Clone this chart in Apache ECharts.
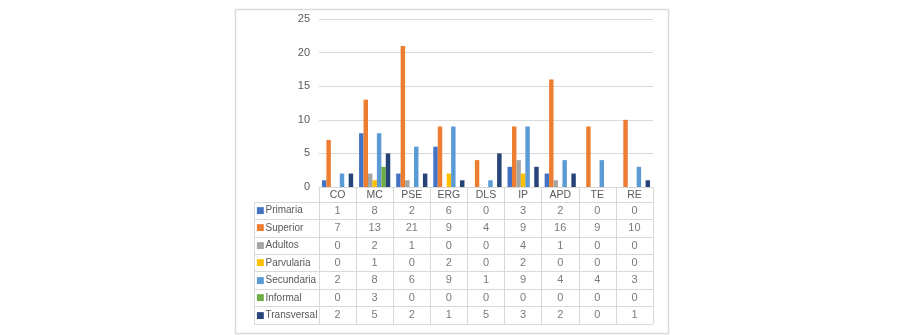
<!DOCTYPE html>
<html>
<head>
<meta charset="utf-8">
<script src="https://cdn.jsdelivr.net/npm/echarts@6/dist/echarts.min.js"></script>
<style>
html, body { margin: 0; padding: 0; background: #fff; }
#chart { width: 902px; height: 335px; }
</style>
</head>
<body>
<div id="chart"></div>
<script>
// data
const categories = ["CO", "MC", "PSE", "ERG", "DLS", "IP", "APD", "TE", "RE"]
const primaria = [1, 8, 2, 6, 0, 3, 2, 0, 0]
const superior = [7, 13, 21, 9, 4, 9, 16, 9, 10]
const adultos = [0, 2, 1, 0, 0, 4, 1, 0, 0]
const parvularia = [0, 1, 0, 2, 0, 2, 0, 0, 0]
const secundaria = [2, 8, 6, 9, 1, 9, 4, 4, 3]
const informal = [0, 3, 0, 0, 0, 0, 0, 0, 0]
const transversal = [2, 5, 2, 1, 5, 3, 2, 0, 1]
const seriesNames = ["Primaria", "Superior", "Adultos", "Parvularia", "Secundaria", "Informal", "Transversal"]
const seriesValues = [primaria, superior, adultos, parvularia, secundaria, informal, transversal]
const yMax = 25
const yStep = 5

const colors = ["#4472C4", "#ED7D31", "#A5A5A5", "#FFC000", "#5B9BD5", "#70AD47", "#264478"]
const lineColor = "#d9d9d9"
const textColor = "#595959"
const font = "Liberation Sans"

let myChart = echarts.init(document.getElementById("chart"))

// cells of the data table
let cells = []
seriesValues.forEach((vals, r) => {
    vals.forEach((v, c) => cells.push([c, r, v]))
})

let rich = {t: {color: textColor, fontSize: 10, fontFamily: font, padding: [0, 0, 0, 1]}}
colors.forEach((col, i) => {
    rich["m" + i] = {color: col, fontSize: 9, fontFamily: "DejaVu Sans"}
})

let barSeries = seriesNames.map((name, i) => {
    return {
        name: name,
        type: "bar",
        xAxisIndex: 0,
        yAxisIndex: 0,
        data: seriesValues[i],
        itemStyle: {color: colors[i]},
        barGap: "0%",
        barCategoryGap: "16%",
        silent: true
    }
})

let options = {
    animation: false,
    backgroundColor: "#fff",
    textStyle: {fontFamily: font},
    graphic: [{
        type: "rect",
        left: 233,
        top: 7,
        shape: {width: 433, height: 324},
        style: {fill: "none", stroke: lineColor, lineWidth: 1.5},
        z: -1
    }],
    grid: [
        {left: 319, top: 19, width: 334, height: 168},
        {left: 319, top: 202, width: 334, height: 122},
        {left: 254, top: 202, width: 65, height: 122}
    ],
    xAxis: [{
        gridIndex: 0,
        type: "category",
        data: categories,
        axisLine: {show: true, lineStyle: {color: lineColor}},
        axisTick: {show: true, length: 15, lineStyle: {color: lineColor}},
        axisLabel: {color: textColor, fontSize: 10.5, margin: 3, fontFamily: font}
    }, {
        gridIndex: 1,
        type: "category",
        data: categories,
        axisLine: {show: false},
        axisTick: {show: false},
        axisLabel: {show: false},
        splitLine: {show: true, lineStyle: {color: lineColor}}
    }, {
        gridIndex: 2,
        type: "category",
        data: [""],
        axisLine: {show: false},
        axisTick: {show: false},
        axisLabel: {show: false},
        splitLine: {show: true, lineStyle: {color: lineColor}}
    }],
    yAxis: [{
        gridIndex: 0,
        type: "value",
        min: 0,
        max: yMax,
        interval: yStep,
        axisLine: {show: false},
        axisTick: {show: false},
        axisLabel: {color: textColor, fontSize: 11, margin: 9, fontFamily: font},
        splitLine: {lineStyle: {color: lineColor}}
    }, {
        gridIndex: 1,
        type: "category",
        inverse: true,
        data: seriesNames,
        axisLine: {show: false},
        axisTick: {show: false},
        axisLabel: {show: false},
        splitLine: {show: true, lineStyle: {color: lineColor}}
    }, {
        gridIndex: 2,
        type: "category",
        inverse: true,
        data: seriesNames,
        axisLine: {show: false},
        axisTick: {show: false},
        axisLabel: {
            inside: true,
            margin: 2,
            align: "left",
            formatter: (v, i) => "{m" + i + "|■}{t|" + v + "}",
            rich: rich
        },
        splitLine: {show: true, lineStyle: {color: lineColor}}
    }],
    series: barSeries.concat([{
        type: "scatter",
        xAxisIndex: 1,
        yAxisIndex: 1,
        data: cells,
        symbolSize: 0,
        silent: true,
        label: {
            show: true,
            position: "inside",
            formatter: p => p.value[2],
            color: textColor,
            fontSize: 11,
            fontFamily: font
        }
    }])
}
myChart.setOption(options)
</script>
</body>
</html>
